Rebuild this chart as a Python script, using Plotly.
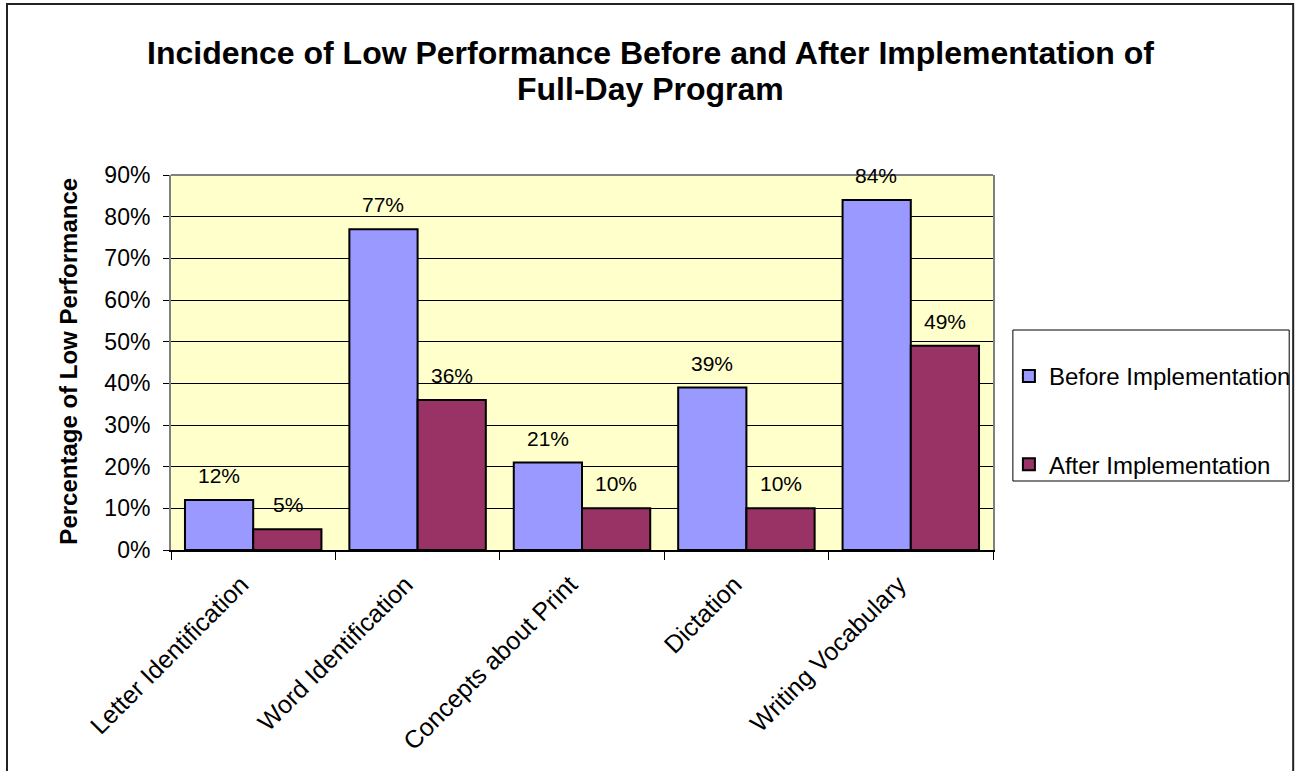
import plotly.graph_objects as go

# Reading assessment categories and share of students with low performance
categories = [
    "Letter Identification",
    "Word Identification",
    "Concepts about Print",
    "Dictation",
    "Writing Vocabulary",
]
before_values = [0.12, 0.77, 0.21, 0.39, 0.84]
after_values = [0.05, 0.36, 0.10, 0.10, 0.49]
series_names = ["Before Implementation", "After Implementation"]
series_colors = ["#9999FF", "#993366"]
title_lines = [
    "Incidence of Low Performance Before and After Implementation of",
    "Full-Day Program",
]

W, H = 1308, 771
M_L, M_R, M_T, M_B = 171, 310, 175, 221
BARGAP = 0.17
FONT = "Liberation Sans, Arial, sans-serif"

fig = go.Figure()
for name, vals, color in zip(series_names, [before_values, after_values], series_colors):
    fig.add_trace(go.Bar(
        x=categories, y=vals, name=name, legendgroup=name,
        marker=dict(color=color, line=dict(color="black", width=2)),
    ))

plot_w = W - M_L - M_R
plot_h = H - M_T - M_B


def py(pixel_y):
    return (H - M_B - pixel_y) / plot_h


def px(pixel_x):
    return (pixel_x - M_L) / plot_w


# value labels above each bar, offset sideways to the grouped bar centre
cat_px = plot_w / len(categories)
half_bar = cat_px * (1 - BARGAP) / 4
annotations = []
for vals, sign in [(before_values, -1), (after_values, 1)]:
    for c, v in zip(categories, vals):
        annotations.append(dict(
            x=c, y=v, xref="x", yref="y", text=f"{round(v * 100)}%",
            showarrow=False, xshift=sign * half_bar, yanchor="bottom", yshift=11,
            font=dict(family=FONT, size=21, color="black"),
        ))

# two-line chart title
for line, ypix in zip(title_lines, [53, 89]):
    annotations.append(dict(
        x=px(653), y=py(ypix), xref="paper", yref="paper", text=f"<b>{line}</b>",
        showarrow=False, xanchor="center", yanchor="middle",
        font=dict(family=FONT, size=32, color="black"),
    ))

# y-axis title
annotations.append(dict(
    x=px(67), y=py(361), xref="paper", yref="paper",
    text="<b>Percentage of Low Performance</b>", textangle=-90,
    showarrow=False, xanchor="center", yanchor="middle",
    font=dict(family=FONT, size=24, color="black"),
))

shapes = [
    # outer chart frame
    dict(type="rect", xref="paper", yref="paper",
         x0=px(6), x1=px(1300), y0=py(790), y1=py(4),
         line=dict(color="#222222", width=2), fillcolor="rgba(0,0,0,0)", layer="below"),
    # top edge of plot area
    dict(type="line", xref="paper", yref="paper", x0=0, x1=1, y0=1, y1=1,
         line=dict(color="#808080", width=2)),
    # legend frame
    dict(type="rect", xref="paper", yref="paper",
         x0=px(1018), x1=px(1296), y0=py(481), y1=py(330),
         line=dict(color="black", width=1), fillcolor="white"),
]

fig.update_layout(
    width=W, height=H,
    margin=dict(l=M_L, r=M_R, t=M_T, b=M_B),
    paper_bgcolor="white", plot_bgcolor="#FFFFCC",
    barmode="group", bargap=BARGAP, bargroupgap=0,
    font=dict(family=FONT, color="black"),
    legend=dict(
        x=px(1014), y=py(354), xanchor="left", yanchor="top",
        font=dict(family=FONT, size=24, color="black"),
        bgcolor="rgba(0,0,0,0)", borderwidth=0,
        traceorder="grouped", tracegroupgap=54,
    ),
    annotations=annotations,
    shapes=shapes,
    showlegend=True,
)

fig.update_xaxes(
    type="category", tickson="boundaries", ticks="outside", ticklen=8,
    tickcolor="black", tickwidth=1, tickangle=-45,
    ticklabelstandoff=8, ticklabelshift=-12,
    tickfont=dict(family=FONT, size=25, color="black"),
    showline=True, linecolor="black", linewidth=2, showgrid=False,
)
fig.update_yaxes(
    range=[0, 0.9], dtick=0.1, tickformat=".0%",
    ticks="outside", ticklen=6, tickcolor="black", tickwidth=1,
    ticklabelstandoff=8,
    tickfont=dict(family=FONT, size=23, color="black"),
    showgrid=True, gridcolor="black", gridwidth=1,
    showline=True, linecolor="#808080", linewidth=2, mirror=True,
    zeroline=False,
)

fig.write_html("out.html")
